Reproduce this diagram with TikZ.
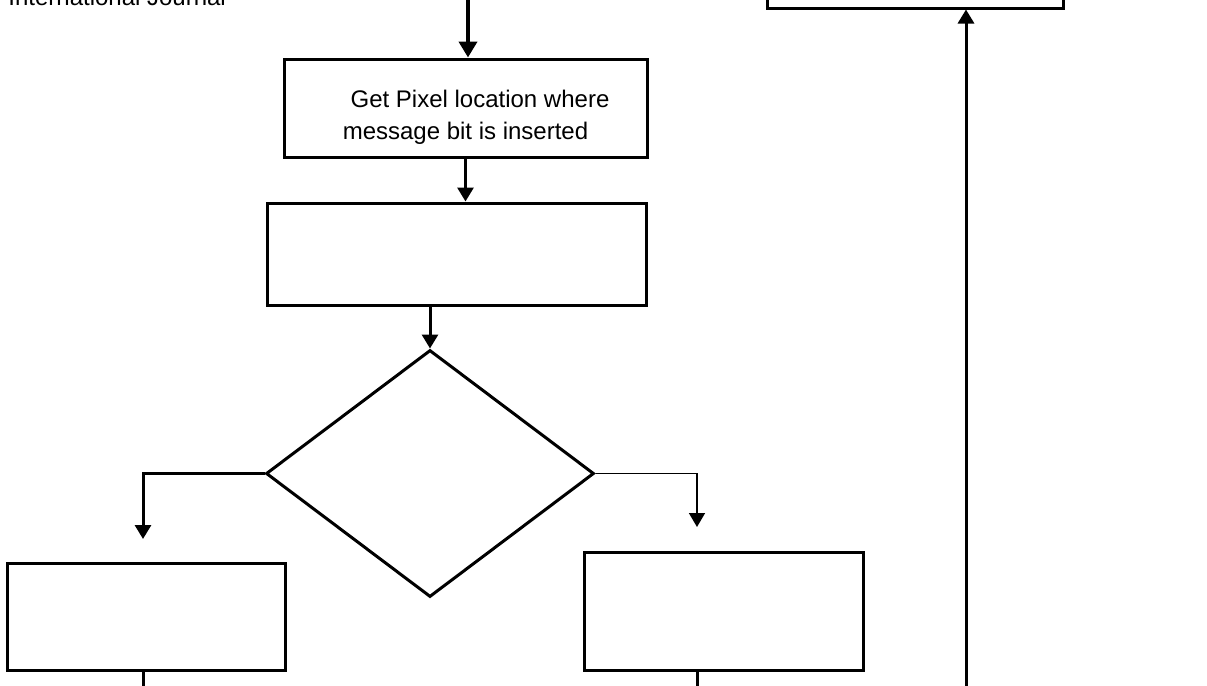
\documentclass[tikz,border=0pt]{standalone}
\usepackage{fontspec}
\setmainfont{Liberation Sans}
\usetikzlibrary{arrows.meta,shapes}
\tikzstyle{block}=[draw,rectangle,line width=1.5pt,inner sep=0pt]
\tikzstyle{decision}=[draw,diamond,line width=1.5pt,inner sep=0pt,minimum width=164pt,minimum height=123.5pt]
\tikzstyle{txt}=[inner sep=0pt,align=center,font=\fontsize{12}{16}\selectfont]
\tikzstyle{link}=[draw,line width=1.5pt]
\tikzstyle{flow}=[link,-{Triangle[length=7pt,width=8pt]}]
\tikzstyle{thinflow}=[flow,line width=0.8pt]
\tikzstyle{bigflow}=[link,line width=2pt,-{Triangle[length=8pt,width=9pt]}]

\begin{document}
\begin{tikzpicture}[x=0.5pt,y=-0.5pt]
    \useasboundingbox (0,0) rectangle (1207,686);
    \clip (0,0) rectangle (1207,686);
    % Header of the page, cut by the top edge
    \node[txt,anchor=base west] (head) at (8,5) {International Journal};

    % First we draw the blocks
    \node[block,minimum width=181.5pt,minimum height=49pt] (pixel) at (465.5,108) {};
    \node[txt] (pixeltext) at ([yshift=-4.5pt]pixel.center) {\hspace*{14.5pt}Get Pixel location where\\message bit is inserted};
    \foreach \pos/\name/\w/\h in {{(456.5,254)/read/189.5pt/51pt}, {(146,616.5)/embedL/139pt/53.5pt}, {(723.5,611)/embedR/139.5pt/59pt}, {(915,-40)/prev/148pt/48pt}}
        \node[block,minimum width=\w,minimum height=\h] (\name) at \pos {};
    \node[decision] (check) at (430,473.5) {};

    % Free ends of the connectors
    \coordinate (start) at (468,0);
    \coordinate (ltip) at (143,539);
    \coordinate (rtip) at (697,527);
    \coordinate (loop) at (966,686);
    \coordinate (base) at (0,686);

    % Connect blocks with arrows
    \path[bigflow] (start) -- (start |- pixel.north);
    \path[flow] (pixel.south) -- (pixel.south |- read.north);
    \path[flow] (check.north |- read.south) -- (check.north);
    \path[flow] (check.west) -| (ltip);
    \path[thinflow] (check.east) -| (rtip);
    \foreach \tip/\blk in {ltip/embedL, rtip/embedR}
        \path[link] (\tip |- \blk.south) -- (\tip |- base);
    \path[flow] (loop) -- (loop |- prev.south);
\end{tikzpicture}
\end{document}
